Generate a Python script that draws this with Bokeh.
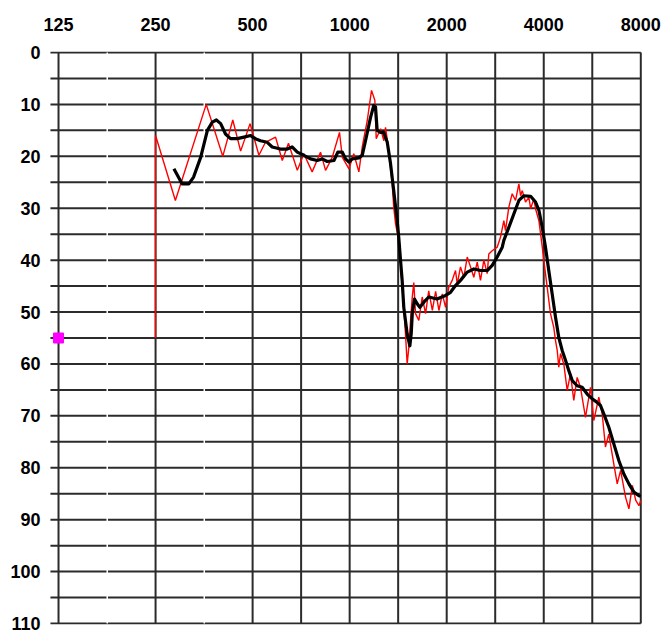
from bokeh.plotting import figure
from bokeh.models import Range1d, FixedTicker
from bokeh.embed import file_html
from bokeh.resources import INLINE

# ---- data ----
freq_ticks = [125, 250, 500, 1000, 2000, 4000, 8000]
freq_labels = ["125", "250", "500", "1000", "2000", "4000", "8000"]
db_ticks = [0, 10, 20, 30, 40, 50, 60, 70, 80, 90, 100, 110]
half_octave_lines = [707, 1414, 2828, 5657]
half_octave_gaps = [177, 354]

red_freq = [250, 250, 288, 359, 404, 434, 459, 491, 523, 548, 589, 618, 646, 688, 721, 765,
            812, 842, 883, 930, 949, 995, 1030, 1068, 1094, 1134, 1169, 1197, 1209, 1247,
            1277, 1292, 1323, 1355, 1370, 1388, 1420, 1438, 1455, 1472, 1490, 1508, 1526,
            1545, 1564, 1581, 1601, 1639, 1679, 1720, 1759, 1805, 1848, 1892, 1938, 1984,
            2030, 2080, 2130, 2156, 2207, 2260, 2316, 2371, 2427, 2487, 2546, 2608, 2671,
            2702, 2768, 2868, 2937, 3008, 3044, 3117, 3193, 3270, 3349, 3390, 3431, 3512,
            3597, 3642, 3727, 3772, 3864, 3958, 4001, 4099, 4197, 4298, 4351, 4404, 4454,
            4509, 4616, 4729, 4841, 4957, 5078, 5200, 5389, 5585, 5719, 5927, 6072, 6215,
            6367, 6598, 6760, 6926, 7177, 7349, 7532, 7718, 7897, 8000]
red_db = [55, 16, 28.5, 10, 20, 13, 19, 13.7, 19.8, 17.3, 16.3, 20.8, 17.5, 22.7, 19.5, 23,
          19.2, 22.7, 20.2, 15.4, 20.2, 22.4, 19.5, 23, 18.2, 13.1, 7.3, 9.2, 16.6, 14.7,
          17, 14.4, 19, 25.3, 29.8, 33, 36.2, 40, 45.2, 49.1, 54.2, 60, 56.8,
          51.6, 47.1, 44.3, 50.3, 51.6, 47.1, 50.3, 45.9, 49.7, 46, 49.7, 46.5, 49.1,
          45.2, 43.9, 42, 44.6, 41.3, 43.3, 39.4, 41.3, 43.3, 40.4, 43.9, 40, 42.6,
          38.8, 38.2, 37.5, 35.6, 32.4, 34.3, 29.8, 27.2, 28.5, 25.3, 27.6, 26.6, 28.8,
          27.9, 30.1, 28.2, 30.1, 32.4, 37.5, 40, 45.2, 50.3, 53, 55.5, 57.4, 60.6,
          58, 60, 65.1, 61.9, 67, 62.6, 64.5, 70.3, 64.5, 70.9, 66.4, 69.6, 76,
          73.5, 79.3, 83.1, 80.5, 85.7, 87.9, 83.4, 86.3, 87.3, 86.3]

black_freq = [285, 302, 317, 328, 345, 362, 375, 386, 398, 412, 427, 448, 470, 493, 510, 529,
              555, 575, 610, 640, 663, 688, 721, 756, 793, 822, 852, 894, 919, 949, 971, 995,
              1018, 1068, 1094, 1120, 1161, 1188, 1203, 1217, 1246, 1276, 1308, 1339, 1370,
              1404, 1420, 1438, 1455, 1472, 1508, 1537, 1552, 1564, 1589, 1620, 1651, 1699,
              1759, 1867, 1984, 2055, 2130, 2207, 2316, 2427, 2546, 2671, 2768, 2868, 2974,
              3008, 3117, 3230, 3349, 3469, 3642, 3772, 3864, 3958, 4050, 4146, 4248, 4351,
              4454, 4563, 4672, 4785, 4903, 5078, 5262, 5454, 5652, 5858, 5999, 6142, 6367,
              6598, 6839, 7088, 7349, 7618, 7897, 8000]
black_db = [22.4, 25.3, 25.3, 24, 20.2, 15, 13.4, 13, 13.7, 15.7, 16.6, 16.6, 16.3, 16, 16.6, 17,
            17.3, 18.2, 18.6, 18.6, 18.2, 19.2, 19.8, 20.5, 20.8, 20.5, 21, 20.8, 19.2, 19.2, 20.5, 21.1,
            20.5, 20.3, 19.8, 17, 12.5, 10.2, 10.5, 15, 15.4, 15.4, 17.3, 21.4, 26.6,
            32.4, 35.6, 40, 43.9, 49.1, 54.2, 56.5, 54.2, 50.3, 47.5, 48.4, 49.1, 48.1,
            47.1, 47.5, 46.8, 46.2, 44.9, 43.9, 42.3, 41.7, 42, 42, 41, 39.4, 37.5,
            36.2, 33.7, 31.1, 28.5, 27.6, 27.7, 28.8, 30.4, 33.7, 37.5, 42, 46.5, 51,
            54.9, 57.4, 59.3, 61.3, 63.2, 64.2, 64.5, 65.8, 66.7, 67.4, 68, 69.6, 72.2,
            75.4, 78.6, 81.2, 83.1, 84.7, 85.4, 85.5]

marker_freq = [125]
marker_db = [55]

# ---- figure ----
x_start, x_end = 117.2, 8098
y_bottom, y_top = 110.193, -0.193

p = figure(width=666, height=631, x_axis_type="log", x_axis_location="above",
           x_range=Range1d(x_start, x_end), y_range=Range1d(y_bottom, y_top),
           output_backend="svg", toolbar_location=None,
           min_border_left=49, min_border_right=24, min_border_top=51, min_border_bottom=7)
p.xgrid.visible = False
p.ygrid.visible = False
p.outline_line_color = None
p.background_fill_color = "white"
p.border_fill_color = "white"

grid_color = "#2b2b2b"
# horizontal lines every 5 dB
h_levels = list(range(0, 111, 5))
p.segment(x0=[118] * len(h_levels), x1=[8000] * len(h_levels), y0=h_levels, y1=h_levels,
          line_color=grid_color, line_width=2)
# small white gaps at half octaves below 500 Hz
p.segment(x0=half_octave_gaps, x1=half_octave_gaps, y0=[0] * 2, y1=[110] * 2,
          line_color="white", line_width=1.5)
# vertical lines
v_lines = freq_ticks + half_octave_lines
p.segment(x0=v_lines, x1=v_lines, y0=[0] * len(v_lines), y1=[110] * len(v_lines),
          line_color=grid_color, line_width=2)

p.line(red_freq, red_db, line_color="#ff0000", line_width=1.4)
p.line(black_freq, black_db, line_color="black", line_width=3.2, line_join="round")
p.scatter(marker_freq, marker_db, marker="square", size=10, fill_color="#ff00ff",
          line_color="#ff00ff")

font = "Liberation Sans"
xa = p.xaxis[0]
xa.ticker = FixedTicker(ticks=freq_ticks, minor_ticks=[])
xa.major_label_overrides = {t: l for t, l in zip(freq_ticks, freq_labels)}
ya = p.yaxis[0]
ya.ticker = FixedTicker(ticks=db_ticks, minor_ticks=[])
for ax in (xa, ya):
    ax.axis_line_color = None
    ax.major_tick_line_color = None
    ax.minor_tick_line_color = None
    ax.major_tick_in = 0
    ax.major_tick_out = 0
    ax.major_label_text_font = font
    ax.major_label_text_font_style = "bold"
    ax.major_label_text_font_size = "18px"
    ax.major_label_text_color = "black"
xa.major_label_standoff = 21
ya.major_label_standoff = 9

open("out.html", "w").write(file_html(p, INLINE))
